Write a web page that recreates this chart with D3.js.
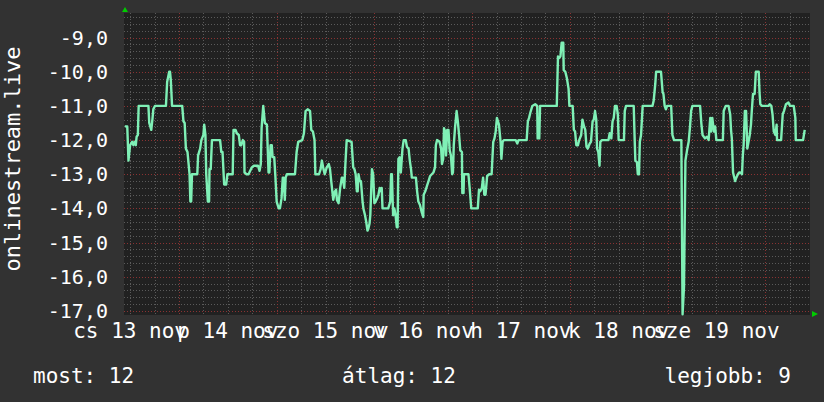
<!DOCTYPE html>
<html>
<head>
<meta charset="utf-8">
<script src="https://cdn.jsdelivr.net/npm/d3@7"></script>
<style>
  html, body { margin: 0; padding: 0; background: #323232; }
  svg { display: block; }
  text { font-family: "DejaVu Sans Mono", monospace; fill: #ffffff; }
</style>
</head>
<body>
<svg id="chart" width="824" height="402"></svg>
<script>
// data: hours since start of the graph, value
const hours = [
  0.2, 0.8, 1.1, 1.5, 2.0, 2.3, 2.6, 2.9, 3.1, 3.4, 3.6, 6.0, 6.2, 6.7, 7.0, 7.2, 7.6, 10.3, 10.6, 11.1,
  11.3, 11.5, 11.8, 14.3, 14.6, 14.9, 15.2, 15.6, 16.1, 16.3, 16.5, 16.7, 18.0, 18.2, 18.7, 19.0, 19.5, 19.7, 20.0, 20.2,
  20.6, 20.9, 21.0, 21.3, 21.6, 23.6, 23.9, 24.2, 24.6, 25.1, 25.4, 26.7, 26.9, 27.4, 27.7, 28.2, 28.5, 28.8, 29.2, 29.5,
  29.6, 30.1, 30.6, 31.0, 31.4, 31.9, 32.9, 33.3, 33.6, 33.8, 34.2, 34.6, 35.1, 35.5, 35.7, 36.0, 36.3, 36.5, 36.9, 37.2,
  37.5, 38.0, 38.3, 38.7, 39.0, 39.2, 39.5, 39.7, 40.0, 42.0, 42.4, 42.8, 43.8, 44.2, 44.6, 45.1, 45.7, 46.0, 46.4, 46.8,
  47.0, 47.9, 48.3, 48.6, 49.0, 49.3, 49.8, 50.3, 50.6, 50.9, 51.4, 51.8, 52.1, 52.3, 52.7, 53.1, 53.5, 53.7, 54.1, 54.4,
  54.7, 55.9, 56.3, 56.6, 56.9, 57.2, 57.4, 57.6, 57.9, 58.2, 58.6, 58.8, 59.2, 59.5, 59.8, 60.0, 60.3, 60.5, 60.9, 61.2,
  61.5, 61.8, 62.2, 62.5, 62.8, 63.1, 63.3, 63.5, 64.9, 65.4, 65.6, 65.8, 66.1, 66.4, 66.7, 67.0, 67.2, 67.4, 67.7, 68.0,
  68.4, 68.7, 69.2, 69.5, 69.9, 70.2, 70.5, 70.7, 71.7, 72.0, 72.3, 72.7, 73.1, 73.5, 73.6, 74.0, 74.4, 74.8, 75.2, 75.6,
  76.0, 76.4, 76.6, 76.9, 77.5, 77.9, 78.1, 78.4, 78.6, 78.9, 79.1, 79.4, 79.7, 80.0, 80.3, 80.6, 80.8, 81.0, 81.3, 81.7,
  82.0, 82.3, 82.6, 83.0, 83.1, 83.4, 83.5, 84.6, 84.9, 85.3, 86.9, 87.2, 87.5, 87.9, 88.2, 88.5, 88.8, 89.2, 89.7, 90.3,
  90.7, 91.0, 91.3, 91.6, 92.1, 92.5, 92.7, 93.0, 93.3, 96.2, 96.6, 96.9, 98.9, 99.2, 99.5, 99.8, 100.3, 101.0, 101.5, 101.6,
  102.0, 102.2, 102.6, 106.3, 106.6, 106.9, 107.2, 107.5, 107.9, 108.0, 108.4, 108.8, 109.2, 109.4, 110.2, 110.5, 110.8, 111.1, 111.5, 111.8,
  112.3, 112.6, 113.0, 113.3, 113.6, 113.9, 114.4, 114.7, 115.1, 115.4, 115.7, 116.0, 116.2, 116.5, 116.8, 117.0, 117.4, 119.0, 119.3, 119.7,
  120.0, 120.3, 120.6, 121.0, 121.3, 121.5, 122.8, 123.0, 123.3, 125.2, 125.4, 125.6, 126.0, 126.2, 126.5, 126.7, 127.0, 127.4, 129.8, 130.1,
  130.5, 130.7, 131.9, 132.3, 132.5, 132.8, 133.1, 133.4, 134.4, 134.7, 135.1, 136.9, 137.2, 137.55, 137.9, 138.3, 138.7, 139.0, 139.3, 139.6,
  141.5, 141.8, 142.1, 142.7, 143.2, 143.6, 144.0, 144.2, 144.5, 144.9, 145.2, 145.5, 147.1, 147.3, 147.8, 148.5, 148.9, 149.1, 149.3, 149.6,
  150.1, 150.4, 150.8, 151.1, 151.4, 151.8, 152.0, 152.2, 152.5, 152.8, 153.1, 153.4, 153.7, 154.0, 154.2, 154.5, 154.9, 155.2, 155.9, 156.1,
  156.3, 156.7, 158.3, 158.6, 159.0, 159.3, 159.6, 160.0, 160.3, 160.4, 161.4, 161.8, 162.1, 162.6, 163.2, 163.6, 164.5, 164.9, 165.0, 166.8,
  167.2
];
const values = [
  -11.6, -11.6, -12.6, -12.15, -12.05, -12.15, -12.05, -12.15, -11.9, -11.85, -11.0, -11.0, -11.5, -11.7, -11.37, -11.1, -11.0, -11.0, -10.3, -10.0,
  -10.0, -10.25, -11.0, -11.0, -11.45, -11.5, -12.25, -12.35, -13.0, -13.8, -13.8, -13.0, -13.0, -12.45, -12.25, -12.0, -11.85, -11.55, -11.85, -13.0,
  -13.8, -13.8, -12.85, -12.85, -12.0, -12.0, -12.35, -12.35, -13.3, -13.3, -13.0, -13.0, -11.7, -11.7, -11.8, -11.85, -12.15, -12.15, -12.0, -12.05,
  -12.95, -13.0, -13.0, -12.9, -12.8, -12.75, -12.75, -12.9, -12.7, -11.65, -11.0, -11.5, -11.55, -12.95, -12.95, -12.15, -12.15, -12.5, -12.5, -13.1,
  -13.8, -14.0, -14.0, -13.7, -13.1, -13.1, -13.75, -13.1, -13.0, -13.0, -12.35, -12.05, -12.0, -11.8, -11.15, -11.1, -11.15, -11.7, -11.75, -12.0,
  -13.0, -13.0, -12.85, -12.6, -12.85, -13.0, -12.8, -12.7, -12.85, -13.2, -13.75, -13.5, -13.45, -13.75, -13.85, -13.4, -13.1, -13.1, -13.4, -12.65,
  -12.0, -12.05, -12.8, -12.85, -13.0, -13.5, -13.5, -13.0, -13.2, -13.2, -13.8, -14.0, -14.2, -14.4, -14.65, -14.6, -14.45, -14.2, -12.85, -13.0,
  -13.85, -13.8, -13.7, -13.6, -13.4, -13.5, -13.4, -14.0, -14.0, -13.8, -13.0, -13.0, -14.2, -14.0, -14.2, -14.55, -14.55, -12.55, -12.5, -12.95,
  -12.25, -12.0, -12.0, -12.2, -12.25, -12.6, -12.85, -13.1, -13.1, -13.5, -13.8, -13.9, -14.1, -14.25, -13.6, -13.5, -13.35, -13.2, -13.05, -13.0,
  -12.95, -12.8, -12.15, -12.0, -12.05, -12.25, -12.7, -12.55, -11.65, -11.75, -12.45, -11.7, -11.7, -12.3, -12.45, -13.0, -12.95, -12.15, -11.65, -11.15,
  -11.45, -11.85, -12.3, -12.35, -13.55, -13.55, -13.0, -13.0, -13.4, -14.0, -14.0, -13.45, -13.5, -13.4, -13.1, -13.6, -13.6, -13.05, -13.0, -13.0,
  -12.05, -11.95, -11.75, -11.35, -11.55, -12.05, -12.55, -12.05, -12.0, -12.0, -12.1, -12.0, -12.0, -11.45, -11.35, -11.2, -11.0, -10.95, -11.0, -11.95,
  -11.95, -11.0, -11.0, -11.0, -9.55, -9.6, -9.55, -9.15, -9.15, -9.95, -10.0, -10.2, -10.5, -11.0, -11.0, -11.7, -11.75, -12.15, -12.15, -12.0,
  -11.85, -11.4, -11.6, -11.7, -12.2, -12.25, -12.1, -12.05, -11.45, -11.4, -11.15, -11.4, -12.25, -12.35, -12.75, -12.05, -12.0, -12.0, -11.8, -11.95,
  -11.45, -11.35, -11.0, -11.0, -11.25, -12.0, -12.0, -11.15, -11.0, -11.0, -11.85, -12.6, -12.65, -13.0, -13.0, -12.05, -11.85, -11.0, -11.0, -10.85,
  -10.35, -10.0, -10.0, -10.6, -10.65, -11.0, -11.1, -11.0, -11.0, -11.85, -12.0, -12.0, -17.1, -16.3, -12.6, -12.3, -12.05, -11.65, -11.15, -11.0,
  -11.0, -11.5, -11.85, -11.95, -11.9, -12.0, -11.35, -11.75, -11.35, -11.75, -11.6, -12.0, -12.0, -11.15, -11.0, -11.0, -11.25, -11.7, -11.95, -12.95,
  -13.2, -13.1, -13.0, -12.95, -12.95, -13.0, -12.45, -12.15, -11.15, -11.15, -12.25, -12.05, -11.85, -11.55, -11.15, -10.65, -10.65, -10.0, -10.0, -10.6,
  -10.95, -11.0, -11.0, -10.95, -11.0, -11.25, -11.75, -11.85, -11.55, -12.0, -12.0, -11.25, -11.15, -10.95, -10.9, -11.0, -11.0, -11.35, -12.0, -12.0,
  -11.7
];

const yTicks = [-9, -10, -11, -12, -13, -14, -15, -16, -17];
const dayLabels = ['cs 13 nov', 'p 14 nov', 'szo 15 nov', 'v 16 nov', 'h 17 nov', 'k 18 nov', 'sze 19 nov'];
const yTitle = 'onlinestream.live';
const legendItems = ['most: 12', 'átlag: 12', 'legjobb: 9'];

const startTime = new Date(2025, 10, 13, 10, 30);
const endTime = new Date(+startTime + 168.5 * 3600e3);

const svg = d3.select('#chart');
const plot = { left: 124, right: 810, top: 13, bottom: 315 };

const x = d3.scaleTime().domain([startTime, endTime]).range([plot.left, plot.right]);
const y = d3.scaleLinear().domain([-17.12, -8.28]).range([plot.bottom, plot.top]);

const fmt = d3.formatLocale({ decimal: ',', thousands: '.', grouping: [3], currency: ['', ''], minus: '-' }).format('.1f');

// plot background
svg.append('rect')
  .attr('x', plot.left).attr('y', plot.top)
  .attr('width', plot.right - plot.left).attr('height', plot.bottom - plot.top)
  .attr('fill', '#212121');

const gridG = svg.append('g');

// minor horizontal grid (every 0.2)
const minorY = d3.range(-17, -8.28, 0.2).filter(v => Math.abs(v - Math.round(v)) > 0.01);
gridG.selectAll('.hminor').data(minorY).enter().append('line')
  .attr('x1', plot.left).attr('x2', plot.right)
  .attr('y1', d => Math.round(y(d)) + 0.5).attr('y2', d => Math.round(y(d)) + 0.5)
  .attr('stroke', '#5a5a5a').attr('stroke-dasharray', '1,2');

// minor vertical grid (every 6 hours)
const minorX = d3.timeHour.every(6).range(startTime, endTime).filter(d => d.getHours() !== 0);
gridG.selectAll('.vminor').data(minorX).enter().append('line')
  .attr('y1', plot.top).attr('y2', plot.bottom)
  .attr('x1', d => Math.round(x(d)) + 0.5).attr('x2', d => Math.round(x(d)) + 0.5)
  .attr('stroke', '#5a5a5a').attr('stroke-dasharray', '1,2');

// major grid
gridG.selectAll('.hmajor').data(yTicks).enter().append('line')
  .attr('x1', plot.left).attr('x2', plot.right)
  .attr('y1', d => Math.round(y(d)) + 0.5).attr('y2', d => Math.round(y(d)) + 0.5)
  .attr('stroke', '#8a3232').attr('stroke-dasharray', '1,2');

const days = d3.timeDay.range(startTime, endTime);
gridG.selectAll('.vmajor').data(days).enter().append('line')
  .attr('y1', plot.top).attr('y2', plot.bottom)
  .attr('x1', d => Math.round(x(d)) + 0.5).attr('x2', d => Math.round(x(d)) + 0.5)
  .attr('stroke', '#8a3232').attr('stroke-dasharray', '1,2');

// y labels
svg.selectAll('.ylab').data(yTicks).enter().append('text')
  .attr('x', 108).attr('y', d => y(d) + 7)
  .attr('text-anchor', 'end')
  .style('font-size', '20px')
  .text(d => fmt(d));

// x labels (centered at noon)
const labelDays = d3.timeDay.range(d3.timeDay.floor(startTime), endTime).slice(0, dayLabels.length);
svg.selectAll('.xlab').data(labelDays).enter().append('text')
  .attr('x', d => x(d3.timeHour.offset(d, 12)))
  .attr('y', 338)
  .attr('text-anchor', 'middle')
  .style('font-size', '21px')
  .text((d, i) => dayLabels[i]);

// y title
svg.append('text')
  .attr('transform', 'translate(20,159) rotate(-90)')
  .attr('text-anchor', 'middle')
  .style('font-size', '22px')
  .text(yTitle);

// data line
const pts = hours.map((h, i) => ({ t: new Date(+startTime + h * 3600e3), v: values[i] }));
svg.append('path')
  .datum(pts)
  .attr('fill', 'none')
  .attr('stroke', '#7ff0b6')
  .attr('stroke-width', 2.4)
  .attr('stroke-linejoin', 'round')
  .attr('d', d3.line().x(d => x(d.t)).y(d => y(d.v)));

// arrows
svg.append('path').attr('d', `M${plot.left - 2},${plot.top - 1} L${plot.left + 4},${plot.top - 1} L${plot.left + 1},${plot.top - 6} Z`).attr('fill', '#00cc00');
svg.append('path').attr('d', `M${plot.right + 2},${plot.bottom - 4} L${plot.right + 2},${plot.bottom + 2} L${plot.right + 8},${plot.bottom - 1} Z`).attr('fill', '#00cc00');

// legend
svg.append('text').attr('x', 33).attr('y', 383).style('font-size', '21px').text(legendItems[0]);
svg.append('text').attr('x', 399).attr('y', 383).attr('text-anchor', 'middle').style('font-size', '21px').text(legendItems[1]);
svg.append('text').attr('x', 791).attr('y', 383).attr('text-anchor', 'end').style('font-size', '21px').text(legendItems[2]);
</script>
</body>
</html>
